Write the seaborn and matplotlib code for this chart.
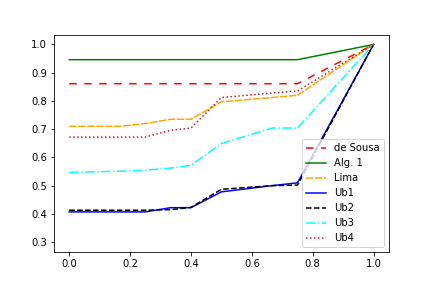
import numpy as np
import seaborn as sns
import matplotlib
matplotlib.use("Agg")
import matplotlib.pyplot as plt

# x positions
x = [0.0, 1/6, 0.25, 1/3, 0.4, 0.5, 2/3, 0.75, 1.0]

de_sousa = [0.861, 0.861, 0.861, 0.861, 0.861, 0.861, 0.861, 0.861, 1.0]
alg1 = [0.946, 0.946, 0.946, 0.946, 0.946, 0.946, 0.946, 0.946, 1.0]
lima = [0.71, 0.71, 0.72, 0.735, 0.735, 0.797, 0.812, 0.82, 1.0]
ub1 = [0.407, 0.407, 0.407, 0.422, 0.422, 0.478, 0.50, 0.51, 1.0]
ub2 = [0.413, 0.413, 0.413, 0.415, 0.423, 0.487, 0.50, 0.502, 1.0]
ub3 = [0.547, 0.551, 0.555, 0.562, 0.572, 0.649, 0.704, 0.704, 1.0]
ub4 = [0.672, 0.672, 0.672, 0.696, 0.704, 0.812, 0.828, 0.835, 1.0]

labels = ["de Sousa", "Alg. 1", "Lima", "Ub1", "Ub2", "Ub3", "Ub4"]
series = [de_sousa, alg1, lima, ub1, ub2, ub3, ub4]
colors = ["red", "green", "orange", "blue", "black", "cyan", "firebrick"]
styles = [(0, (5, 5)), "-", (0, (5, 1)), "-", "--", "-.", ":"]

fig, ax = plt.subplots(figsize=(6, 4), dpi=72)
fig.subplots_adjust(left=0.125, right=0.9, bottom=0.125, top=0.878)

for lab, ys, c, ls in zip(labels, series, colors, styles):
    sns.lineplot(x=x, y=ys, ax=ax, color=c, linestyle=ls, label=lab)

ax.set_ylim(0.265, 1.033)
ax.legend(loc="lower right")
plt.savefig("out.png", dpi=72)
